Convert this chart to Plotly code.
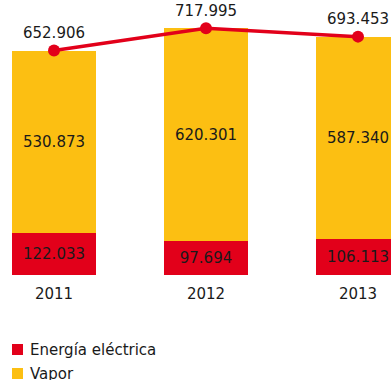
import plotly.graph_objects as go

years = ["2011", "2012", "2013"]
energia_electrica = [122.033, 97.694, 106.113]
vapor = [530.873, 620.301, 587.340]
totales = [652.906, 717.995, 693.453]
series_names = ["Energía eléctrica", "Vapor"]

RED = "#E2001A"
YELLOW = "#FCBF12"
TEXT = "#1A1A1A"
FONT = "DejaVu Sans, Verdana, sans-serif"

W, H = 391, 380
PLOT_BOTTOM = 275  # pixel row of the zero line


def fmt(v):
    return f"{v:.3f}"


fig = go.Figure()

fig.add_trace(go.Bar(
    x=years, y=energia_electrica, name=series_names[0],
    marker=dict(color=RED, line=dict(width=0)),
    text=[fmt(v) for v in energia_electrica], textposition="inside",
    insidetextanchor="middle", textangle=0,
    textfont=dict(family=FONT, size=15, color=TEXT),
    width=0.553, showlegend=False,
))
fig.add_trace(go.Bar(
    x=years, y=vapor, name=series_names[1],
    marker=dict(color=YELLOW, line=dict(width=0)),
    text=[fmt(v) for v in vapor], textposition="inside",
    insidetextanchor="middle", textangle=0,
    textfont=dict(family=FONT, size=15, color=TEXT),
    width=0.553, showlegend=False,
))
fig.add_trace(go.Scatter(
    x=years, y=totales, mode="lines+markers+text",
    line=dict(color=RED, width=3.5),
    marker=dict(color=RED, size=12),
    text=[fmt(v) for v in totales], textposition="top center",
    textfont=dict(family=FONT, size=15, color=TEXT),
    cliponaxis=False, showlegend=False,
))

# Legend drawn below the plot
def px_x(p):
    return p / W


def px_y(p):
    return (PLOT_BOTTOM - p) / PLOT_BOTTOM


legend_rows = [(series_names[0], RED, 349.5), (series_names[1], YELLOW, 373.5)]
for name, color, cy in legend_rows:
    fig.add_shape(type="rect", xref="paper", yref="paper",
                  x0=px_x(12), x1=px_x(23), y0=px_y(cy + 5.5), y1=px_y(cy - 5.5),
                  fillcolor=color, line=dict(width=0))
    fig.add_annotation(xref="paper", yref="paper", x=px_x(28), y=px_y(cy),
                       xanchor="left", yanchor="middle", showarrow=False,
                       text=name, font=dict(family=FONT, size=15, color=TEXT))

fig.update_layout(
    width=W, height=H,
    margin=dict(l=0, r=0, t=0, b=H - PLOT_BOTTOM),
    barmode="stack",
    plot_bgcolor="white", paper_bgcolor="white",
    xaxis=dict(range=[-54 / 152, 2 + 33 / 152], showgrid=False, zeroline=False,
               showline=False, ticks="", tickfont=dict(family=FONT, size=15, color=TEXT),
               ticklabelstandoff=8),
    yaxis=dict(range=[0, 800], visible=False),
    uniformtext=dict(mode=False),
)

fig.write_html("out.html")
